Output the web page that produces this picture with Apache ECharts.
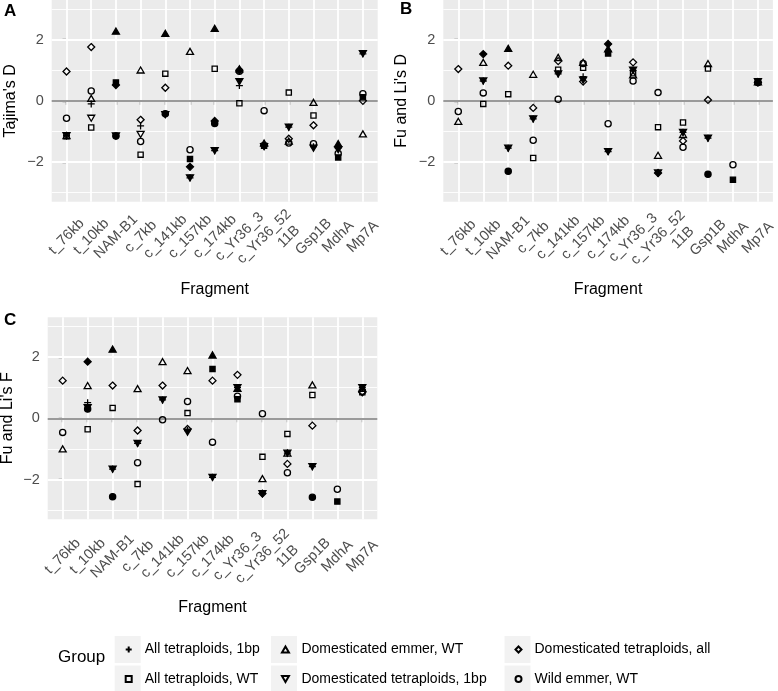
<!DOCTYPE html>
<html>
<head>
<meta charset="utf-8">
<script src="https://cdn.jsdelivr.net/npm/echarts@6/dist/echarts.min.js"></script>
<style>html,body{margin:0;padding:0;background:#fff}#c{width:778px;height:691px}</style>
</head>
<body>
<div id="c"></div>
<script>
// ---------------- data ----------------
const fragments = ['t_76kb','t_10kb','NAM-B1','c_7kb','c_141kb','c_157kb','c_174kb','c_Yr36_3','c_Yr36_52','11B','Gsp1B','MdhA','Mp7A'];
const groups = ['All tetraploids, 1bp','All tetraploids, WT','Domesticated emmer, WT','Domesticated tetraploids, 1bp','Domesticated tetraploids, all','Wild emmer, WT'];
const yTickValues = [-2, 0, 2];

// Panel A: Tajima's D
const tajima_all1bp    = [-1.14, -0.10, -1.15, -0.82, -0.45, -2.52, -1.63, 0.50, -1.48, -0.86, -1.50, -1.55, 1.54];
const tajima_allWT     = [-1.16, -0.87, 0.60, -1.76, 0.89, -1.90, 1.05, -0.08, -1.47, 0.27, -0.48, -1.85, 0.12];
const tajima_domEmmer  = [-1.14, 0.08, 2.28, 1.01, 2.21, 1.62, 2.37, 1.05, -1.38, -1.32, -0.05, -1.40, -1.08];
const tajima_dom1bp    = [-1.14, -0.57, -1.15, -1.10, -0.45, -2.52, -1.63, 0.63, -1.50, -0.86, -1.55, -1.60, 1.54];
const tajima_domAll    = [0.96, 1.76, 0.52, -0.62, 0.43, -2.16, -0.66, 1.00, -1.45, -1.24, -0.80, -1.50, 0.00];
const tajima_wild      = [-0.57, 0.32, -1.15, -1.33, -0.42, -1.60, -0.74, 0.97, -0.32, -1.38, -1.40, -1.72, 0.23];
// filled (significant) points: [group index, fragment index]
const tajima_filled = [[2,2],[2,4],[2,6],[2,7],[2,11],[1,2],[1,5],[1,11],[1,12],[4,2],[4,5],[4,6],[4,7],[4,8],
  [3,2],[3,4],[3,5],[3,6],[3,7],[3,8],[3,9],[3,10],[3,11],[3,12],[5,2],[5,6],[5,4]];

// Panel B: Fu and Li's D
const fuliD_all1bp   = [null, 0.65, -1.55, -0.59, 0.88, 0.79, -1.66, 1.00, -2.36, -1.03, -1.22, null, 0.63];
const fuliD_allWT    = [null, -0.10, 0.22, -1.87, 1.02, 1.08, 1.55, 0.90, -0.86, -0.71, 1.06, -2.58, 0.62];
const fuliD_domEmmer = [-0.67, 1.26, 1.72, 0.87, 1.42, 1.26, 1.70, 0.85, -1.78, -1.10, 1.22, null, 0.62];
const fuliD_dom1bp   = [null, 0.65, -1.55, -0.59, 0.88, 0.68, -1.66, 1.00, -2.36, -1.03, -1.22, null, 0.63];
const fuliD_domAll   = [1.04, 1.53, 1.15, -0.23, 1.30, 0.63, 1.86, 1.26, -2.36, -1.31, 0.03, null, 0.60];
const fuliD_wild     = [-0.35, 0.26, -2.30, -1.29, 0.05, 1.22, -0.75, 0.65, 0.27, -1.52, -2.40, -2.09, 0.60];
const fuliD_filled = [[4,1],[4,6],[4,8],[4,12],[2,2],[2,6],[2,12],[1,6],[1,11],[1,12],[5,2],[5,10],[5,12],
  [3,1],[3,2],[3,3],[3,4],[3,5],[3,6],[3,7],[3,8],[3,9],[3,10],[3,12]];

// Panel C: Fu and Li's F
const fuliF_all1bp   = [null, 0.51, -1.66, -0.82, 0.60, -0.40, -1.93, 1.00, -2.46, -1.14, -1.58, null, 1.00];
const fuliF_allWT    = [null, -0.36, 0.34, -2.15, null, 0.17, 1.61, 0.62, -1.26, -0.51, 0.76, -2.72, 0.85];
const fuliF_domEmmer = [-1.00, 1.07, 2.26, 0.97, 1.85, 1.56, 2.07, 0.98, -1.97, -1.14, 1.09, null, 0.98];
const fuliF_dom1bp   = [null, 0.35, -1.66, -0.82, 0.60, -0.45, -1.93, 1.00, -2.46, -1.14, -1.58, null, 1.00];
const fuliF_domAll   = [1.23, 1.85, 1.07, -0.40, 1.07, -0.35, 1.23, 1.42, -2.46, -1.49, -0.24, null, 0.85];
const fuliF_wild     = [-0.46, 0.30, -2.56, -1.45, -0.05, 0.55, -0.78, 0.72, 0.15, -1.78, -2.58, -2.32, 0.88];
const fuliF_filled = [[4,1],[4,8],[2,2],[2,6],[2,7],[1,6],[1,7],[1,11],[5,1],[5,2],[5,10],
  [3,1],[3,2],[3,3],[3,4],[3,5],[3,6],[3,7],[3,8],[3,9],[3,10],[3,12]];

const panelTitles = ["Tajima's D", "Fu and Li's D", "Fu and Li's F"];
const panelLetters = ['A', 'B', 'C'];
// ---------------------------------------

const panels = [
  {vals: [tajima_all1bp, tajima_allWT, tajima_domEmmer, tajima_dom1bp, tajima_domAll, tajima_wild], filled: tajima_filled},
  {vals: [fuliD_all1bp, fuliD_allWT, fuliD_domEmmer, fuliD_dom1bp, fuliD_domAll, fuliD_wild], filled: fuliD_filled},
  {vals: [fuliF_all1bp, fuliF_allWT, fuliF_domEmmer, fuliF_dom1bp, fuliF_domAll, fuliF_wild], filled: fuliF_filled}
];

const FONT = 'Liberation Sans, Arial, Helvetica, sans-serif';
const symbols = [
  'path://M5,0L5,10M0,5L10,5',
  'path://M0,0L10,0L10,10L0,10Z',
  'path://M5,0L10,8.66L0,8.66Z',
  'path://M0,0L10,0L5,8.66Z',
  'path://M5,0L10,5L5,10L0,5Z',
  'circle'
];
const symbolSizes = [7, 5.2, 7, 7, 7, 6.2];

const gridBoxes = [
  {left: 51.7, top: 0, width: 326, height: 201.7, yGap: 33.5, xm: 35},
  {left: 443.3, top: 0, width: 329.6, height: 201.7, yGap: 34, xm: 36},
  {left: 47.7, top: 317.3, width: 329.6, height: 202, yGap: 32.5, xm: 37}
];

const grid = [], xAxis = [], yAxis = [], series = [];
const catIdx = fragments.map((f, i) => i);

gridBoxes.forEach((g, p) => {
  grid.push({left: g.left, top: g.top, width: g.width, height: g.height, show: true,
    backgroundColor: '#EBEBEB', borderWidth: 0, containLabel: false, outerBoundsMode: 'none'});
  xAxis.push({
    type: 'value', gridIndex: p, min: -0.6, max: fragments.length - 1 + 0.6,
    name: 'Fragment', nameLocation: 'middle', nameGap: 80,
    nameTextStyle: {fontSize: 16, color: '#000', fontFamily: FONT},
    axisLine: {show: false},
    axisTick: {show: true, length: 4, customValues: catIdx, lineStyle: {color: '#333', width: 1.3}},
    axisLabel: {show: true, customValues: catIdx, formatter: v => fragments[Math.round(v)],
      rotate: 45, align: 'center', verticalAlign: 'middle', margin: g.xm, hideOverlap: false,
      fontSize: 14.5, color: '#4D4D4D', fontFamily: FONT},
    splitLine: {show: false}
  });
  yAxis.push({
    type: 'value', gridIndex: p, min: -3.3, max: 3.3,
    name: panelTitles[p], nameLocation: 'middle', nameGap: g.yGap,
    nameTextStyle: {fontSize: 16, color: '#000', fontFamily: FONT},
    axisLine: {show: false},
    axisTick: {show: true, length: 4, customValues: yTickValues, lineStyle: {color: '#333', width: 1.3}},
    axisLabel: {show: true, customValues: yTickValues, margin: 8,
      formatter: v => v < 0 ? '\u2212' + (-v) : String(v),
      fontSize: 14.5, color: '#4D4D4D', fontFamily: FONT},
    splitLine: {show: false}
  });
  // grid lines drawn through the axes' own coordinates
  const ml = (style, data, z) => ({silent: true, symbol: ['none', 'none'], label: {show: false}, z: z,
    lineStyle: style, emphasis: {disabled: true}, animation: false, data: data});
  series.push({type: 'scatter', xAxisIndex: p, yAxisIndex: p, data: [], z: 1, silent: true,
    markLine: ml({color: '#fff', width: 0.9, type: 'solid'}, [-3, -1, 1, 3].map(v => ({yAxis: v})), 1)});
  series.push({type: 'scatter', xAxisIndex: p, yAxisIndex: p, data: [], z: 1, silent: true,
    markLine: ml({color: '#fff', width: 1.8, type: 'solid'},
      yTickValues.map(v => ({yAxis: v})).concat(catIdx.map(i => ({xAxis: i}))), 1)});
  series.push({type: 'scatter', xAxisIndex: p, yAxisIndex: p, data: [], z: 2, silent: true,
    markLine: ml({color: '#9A9A9A', width: 2, type: 'solid'}, [{yAxis: 0}], 2)});

  const pan = panels[p];
  groups.forEach((gname, k) => {
    const filledSet = new Set(pan.filled.filter(f => f[0] === k).map(f => f[1]));
    const data = [];
    pan.vals[k].forEach((v, i) => {
      if (v === null || v === undefined) return;
      const item = {value: [i, v]};
      if (filledSet.has(i)) item.itemStyle = {color: '#000'};
      data.push(item);
    });
    series.push({
      type: 'scatter', name: gname, xAxisIndex: p, yAxisIndex: p, z: 6,
      symbol: symbols[k], symbolSize: symbolSizes[k], symbolKeepAspect: true,
      itemStyle: {color: 'rgba(0,0,0,0)', borderColor: '#000', borderWidth: 1.3, opacity: 1},
      emphasis: {disabled: true}, silent: true, animation: false,
      data: data
    });
  });
});

const keyCenters = [127.7, 284, 517.5];
const rowCenters = [649.5, 679];
const legend = groups.map((gname, k) => ({
  data: [gname], left: keyCenters[Math.floor(k / 2)] - 3, top: rowCenters[k % 2] - 7,
  orient: 'horizontal', padding: 0, itemWidth: 22, itemHeight: 6, selectedMode: false,
  textStyle: {fontSize: 14, color: '#000', fontFamily: FONT, lineHeight: 14}
}));

const graphic = [];
keyCenters.forEach(cx => rowCenters.forEach(cy => {
  graphic.push({type: 'rect', shape: {x: cx - 13, y: cy - 13.5, width: 26, height: 27},
    style: {fill: '#F2F2F2'}, z: 0, silent: true});
}));

const title = [
  {text: 'A', left: 4, top: 3, padding: 0, textStyle: {fontSize: 17, fontWeight: 'bold', color: '#000', fontFamily: FONT}},
  {text: 'B', left: 400, top: 1, padding: 0, textStyle: {fontSize: 17, fontWeight: 'bold', color: '#000', fontFamily: FONT}},
  {text: 'C', left: 4, top: 312, padding: 0, textStyle: {fontSize: 17, fontWeight: 'bold', color: '#000', fontFamily: FONT}},
  {text: 'Group', left: 58, top: 648.5, padding: 0, textStyle: {fontSize: 17, fontWeight: 'normal', color: '#000', fontFamily: FONT}}
];

const chart = echarts.init(document.getElementById('c'), null, {renderer: 'canvas'});
chart.setOption({
  animation: false,
  backgroundColor: '#fff',
  textStyle: {fontFamily: FONT},
  title: title,
  legend: legend,
  graphic: graphic,
  grid: grid,
  xAxis: xAxis,
  yAxis: yAxis,
  series: series
});
</script>
</body>
</html>
